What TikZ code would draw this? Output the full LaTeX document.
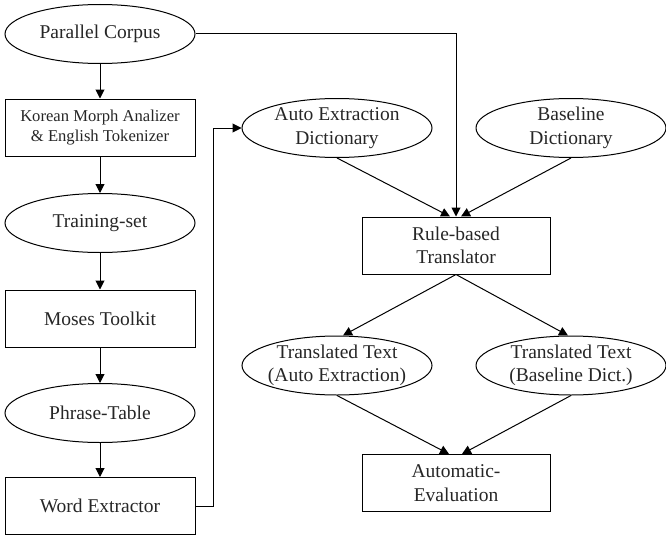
\documentclass[tikz,border=0pt]{standalone}
\usepackage{fontspec}
\setmainfont{Liberation Serif}
\usetikzlibrary{shapes.geometric,arrows.meta}
\begin{document}
\begin{tikzpicture}[x=1pt,y=-1pt,
  txt/.style={font=\fontsize{19.5}{23.5}\selectfont, align=center, text=black!85},
  ell/.style={draw, ellipse, line width=1pt, minimum width=190pt, minimum height=59pt, inner sep=0pt},
  boxn/.style={draw, rectangle, line width=1pt, minimum width=190pt, minimum height=57pt, inner sep=0pt, txt},
  arr/.style={-{Triangle[length=9pt,width=9pt]}, line width=1pt}
]
\useasboundingbox (0,0) rectangle (666,535);
% left column
\node[ell] (pc) at (100,34) {};
\node[txt] (pct) at (pc) {Parallel Corpus};
\node[boxn, font=\fontsize{16.6}{20}\selectfont] (km) at (100,127.5) {Korean Morph Analizer\\\& English Tokenizer};
\node[ell] (ts) at (100,223) {};
\node[txt] (tst) at (ts) {Training-set};
\node[boxn] (mt) at (100,318.5) {Moses Toolkit};
\node[ell] (pt) at (100,413) {};
\node[txt] (ptt) at (pt) {Phrase-Table};
\node[boxn] (we) at (100,506) {Word Extractor};
% right part
\node[ell] (aed) at (337,128) {};
\node[txt] (aedt) at (aed) {Auto Extraction\\Dictionary};
\node[ell] (bd) at (571,128) {};
\node[txt] (bdt) at (bd) {Baseline\\Dictionary};
\node[boxn, minimum width=188pt] (rbt) at (456,245.5) {Rule-based\\Translator};
\node[ell] (tta) at (337,365.5) {};
\node[txt] (ttat) at (tta) {Translated Text\\(Auto Extraction)};
\node[ell] (ttb) at (571,365.5) {};
\node[txt] (ttbt) at (ttb) {Translated Text\\(Baseline Dict.)};
\node[boxn, minimum width=188pt] (ae) at (456,483) {Automatic-\\Evaluation};
% helper coordinates
\coordinate (r1) at ([xshift=-6pt]rbt.north);
\coordinate (r2) at ([xshift=5pt]rbt.north);
\coordinate (t1) at ([xshift=6pt]tta.north);
\coordinate (t2) at ([xshift=-3pt]ttb.north);
\coordinate (e1) at ([xshift=-7pt]ae.north);
\coordinate (e2) at ([xshift=6pt]ae.north);
\coordinate (wr) at ([xshift=18pt]we.east);
% connectors
\draw[arr] (pc) -- (km);
\draw[arr] (km) -- (ts);
\draw[arr] (ts) -- (mt);
\draw[arr] (mt) -- (pt);
\draw[arr] (pt) -- (we);
\draw[arr] (we.east) -- (wr) |- (aed.west);
\draw[arr] (pc.east) -| (rbt.north);
\draw[arr] (aed.south) -- (r1);
\draw[arr] (bd.south) -- (r2);
\draw[arr] (rbt.south) -- (t1);
\draw[arr] (rbt.south) -- (t2);
\draw[arr] (tta.south) -- (e1);
\draw[arr] (ttb.south) -- (e2);
\end{tikzpicture}
\end{document}
